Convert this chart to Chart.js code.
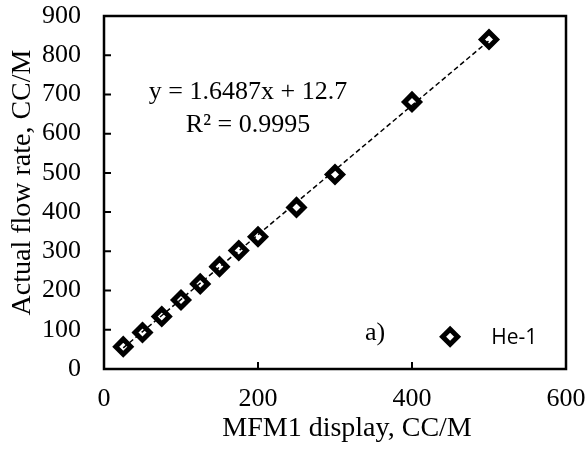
<!DOCTYPE html>
<html>
<head>
<meta charset="utf-8">
<script src="https://cdn.jsdelivr.net/npm/chart.js@4/dist/chart.umd.min.js"></script>
<style>
  html, body { margin: 0; padding: 0; background: #fff; }
  #wrap { width: 587px; height: 451px; }
</style>
</head>
<body>
<div id="wrap"><canvas id="canvas" width="587" height="451"></canvas></div>
<script>
// MFM1 display readings vs. measured flow, He-1
var mfmDisplay = [25, 50, 75, 100, 125, 150, 175, 200, 250, 300, 400, 500];
var actualFlow = [57, 93, 134, 176, 217, 261, 302, 337, 412, 496, 681, 840];

// linear trendline ends (y = 1.6487x + 12.7)
var trendX = [25, 500];
var trendY = [53.9, 837.1];

var xTicks = [0, 200, 400, 600];
var yTicks = [0, 100, 200, 300, 400, 500, 600, 700, 800, 900];

var seriesName = 'He-1';
var xTitle = 'MFM1 display, CC/M';
var yTitle = 'Actual flow rate, CC/M';
var fitLines = ['y = 1.6487x + 12.7', 'R\u00b2 = 0.9995'];
var panelLabel = 'a)';

var serif = "'Liberation Serif', 'Times New Roman', serif";
Chart.defaults.font.family = serif;
Chart.defaults.color = '#000';

function pts(xs, ys) {
  return xs.map(function (x, i) { return { x: x, y: ys[i] }; });
}

function diamond(ctx, x, y, r, lw) {
  ctx.save();
  ctx.beginPath();
  ctx.moveTo(x, y - r);
  ctx.lineTo(x + r, y);
  ctx.lineTo(x, y + r);
  ctx.lineTo(x - r, y);
  ctx.closePath();
  ctx.fillStyle = '#fff';
  ctx.fill();
  ctx.lineWidth = lw;
  ctx.strokeStyle = '#000';
  ctx.stroke();
  ctx.restore();
}

// frame, inward ticks, axis titles, equation, panel label and legend
var decor = {
  id: 'decor',
  afterDatasetsDraw: function (chart) {
    var ctx = chart.ctx, a = chart.chartArea;
    var xs = chart.scales.x, ys = chart.scales.y;
    ctx.save();
    ctx.strokeStyle = '#000';
    ctx.lineWidth = 2.5;
    ctx.strokeRect(a.left, a.top, a.right - a.left, a.bottom - a.top);
    ctx.lineWidth = 2;
    ctx.beginPath();
    xTicks.forEach(function (v) {
      var px = xs.getPixelForValue(v);
      ctx.moveTo(px, a.bottom);
      ctx.lineTo(px, a.bottom - 7);
    });
    yTicks.forEach(function (v) {
      var py = ys.getPixelForValue(v);
      ctx.moveTo(a.left, py);
      ctx.lineTo(a.left + 7, py);
    });
    ctx.stroke();

    ctx.fillStyle = '#000';
    ctx.textBaseline = 'middle';
    ctx.textAlign = 'center';

    // axis titles sit a little off-centre, as in the source
    ctx.font = '28px ' + serif;
    ctx.fillText(xTitle, (a.left + a.right) / 2 + 12, 429);
    ctx.save();
    ctx.translate(22.5, (a.top + a.bottom) / 2 - 10);
    ctx.rotate(-Math.PI / 2);
    ctx.fillText(yTitle, 0, 0);
    ctx.restore();

    ctx.font = '26px ' + serif;
    var ex = xs.getPixelForValue(187);
    ctx.fillText(fitLines[0], ex, ys.getPixelForValue(706));
    ctx.fillText(fitLines[1], ex, ys.getPixelForValue(622));

    ctx.textAlign = 'left';
    ctx.fillText(panelLabel, xs.getPixelForValue(339), ys.getPixelForValue(92));

    var ly = ys.getPixelForValue(82);
    diamond(ctx, xs.getPixelForValue(449.5), ly, 7.5, 5);
    ctx.font = "21px 'Open Sans', 'Liberation Sans', sans-serif";
    ctx.fillStyle = '#000';
    ctx.fillText(seriesName, xs.getPixelForValue(503), ly + 1);
    ctx.restore();
  }
};

new Chart(document.getElementById('canvas').getContext('2d'), {
  type: 'scatter',
  data: {
    datasets: [
      {
        label: 'trend',
        type: 'line',
        data: pts(trendX, trendY),
        borderColor: '#000',
        borderWidth: 1.5,
        borderDash: [5, 3],
        pointRadius: 0,
        fill: false,
        order: 0
      },
      {
        label: seriesName,
        data: pts(mfmDisplay, actualFlow),
        pointStyle: 'rectRot',
        pointRadius: 7.5,
        pointBorderWidth: 5,
        pointBackgroundColor: '#fff',
        pointBorderColor: '#000',
        order: 1
      }
    ]
  },
  options: {
    responsive: false,
    animation: false,
    events: [],
    layout: { padding: { top: 16, right: 21, left: 0, bottom: 0 } },
    plugins: { legend: { display: false }, tooltip: { enabled: false } },
    scales: {
      x: {
        type: 'linear',
        min: 0, max: 600,
        afterBuildTicks: function (s) { s.ticks = xTicks.map(function (v) { return { value: v }; }); },
        afterFit: function (s) { s.height = 82; s.paddingLeft = 0; s.paddingRight = 0; },
        grid: { display: false, drawTicks: false },
        border: { display: false },
        ticks: { font: { size: 26 }, padding: 15, color: '#000', maxRotation: 0 }
      },
      y: {
        type: 'linear',
        min: 0, max: 900,
        afterBuildTicks: function (s) { s.ticks = yTicks.map(function (v) { return { value: v }; }); },
        afterFit: function (s) { s.width = 104; s.paddingTop = 0; s.paddingBottom = 0; },
        grid: { display: false, drawTicks: false },
        border: { display: false },
        ticks: { font: { size: 26 }, padding: 23, color: '#000' }
      }
    }
  },
  plugins: [decor]
});
</script>
</body>
</html>
